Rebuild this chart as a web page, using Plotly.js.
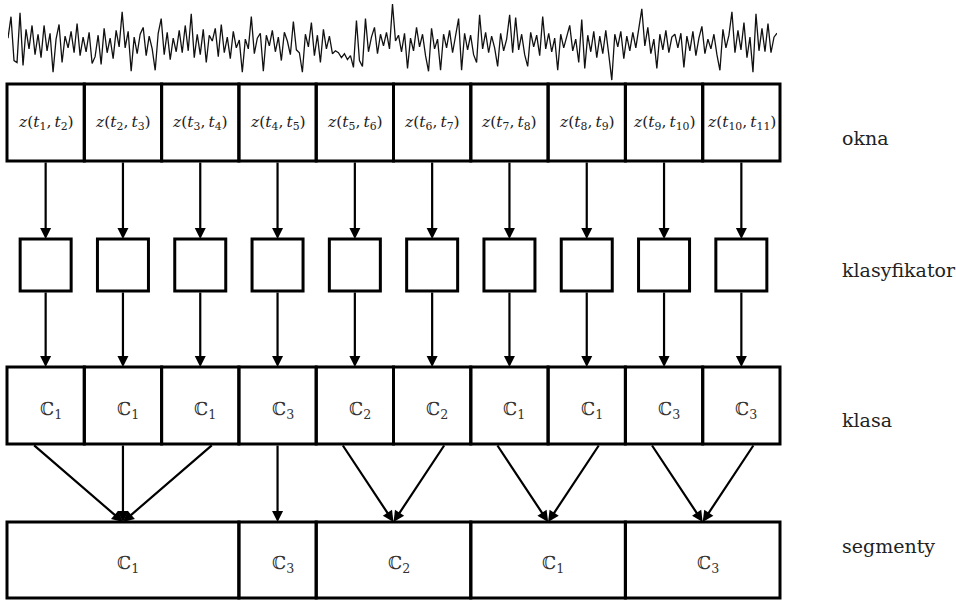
<!DOCTYPE html>
<html><head><meta charset="utf-8">
<script src="https://cdn.plot.ly/plotly-3.0.1.min.js"></script>
<style>html,body{margin:0;padding:0;background:#fff;}#chart{width:956px;height:600px;}</style>
</head><body><div id="chart"></div>
<script>
// ---- data ----
const signal = [
 0.5, 2.7, -1.8, -2.0, 3.1, -2.3, 1.4, -0.6, 1.8, -1.2,
 0.9, -1.5, 1.8, -0.8, 1.0, -3.0, 0.4, 1.9, -2.0, 0.7,
 -0.5, 1.2, -1.0, 2.0, -1.3, 0.6, -0.9, 1.1, -2.1, -1.4,
 0.8, -2.2, 1.5, -1.0, 0.5, -1.6, 1.3, -0.4, 3.2, -0.5,
 1.2, -2.9, 0.6, -1.1, 0.9, 1.6, -1.3, 0.7, -0.6, -2.8,
 1.0, 2.5, -1.2, 1.1, -1.7, 0.5, -0.9, 1.3, -1.0, 1.8,
 -0.8, 3.0, -1.5, 0.9, -1.2, 1.4, -2.0, 0.8, 0.2, 1.5,
 -1.4, 1.9, -1.0, 0.6, -1.6, 1.2, -0.5, 0.3, -3.0, 0.4,
 -0.6, 2.7, -1.1, 0.5, 1.0, -2.9, 0.8, -0.3, 1.3, -0.9,
 0.6, -1.8, 1.1, 0.2, -1.2, 2.2, -0.7, -1.0, -3.0, 0.9,
 -0.4, 2.1, -1.3, 0.8, -2.0, 1.4, -0.6, 0.7, -1.1, -0.8,
 -1.0, -1.5, -1.1, -1.7, -1.3, -2.5, 2.3, -1.8, -2.4, 2.5,
 -0.9, 0.6, 1.6, -1.1, 0.9, -0.3, 1.1, -0.6, 4.0, 0.2,
 0.8, -0.9, 1.0, -2.6, 0.5, -0.8, 1.6, -0.4, 0.9, -1.3,
 -2.9, 1.5, -0.6, 0.4, -2.8, 0.9, -0.5, 1.3, -1.0, 0.6,
 2.5, -2.8, 1.0, -0.7, 0.8, -1.2, -2.0, 2.9, -0.6, 1.1,
 -1.0, 0.7, -0.5, -2.4, 1.0, -0.8, 0.4, 2.9, -1.0, 2.6,
 -0.7, 0.9, -1.2, -2.4, 1.1, -0.4, 0.8, -1.3, 2.7, -0.6,
 1.0, -0.9, 0.5, -2.8, 0.9, -0.5, 0.6, 1.8, -0.8, 0.4,
 -2.0, 2.4, -2.6, 0.8, -0.9, 1.2, -1.5, 0.7, -1.1, 1.3,
 -1.2, -3.8, 0.9, -0.4, 1.2, -1.6, 0.7, -0.8, 1.1, -0.5,
 1.5, 3.5, -0.3, 1.6, -1.1, 0.4, -2.6, 0.9, -0.7, 1.3,
 -1.0, 0.6, 0.9, -0.5, 1.0, -2.5, 0.7, -0.8, 1.2, -1.3,
 0.5, 1.7, -1.1, 0.4, -0.6, 0.9, -1.2, -2.8, 1.4, -0.5,
 0.8, 3.2, -1.0, 1.3, -0.7, 2.1, -1.5, 0.6, -3.0, 3.0,
 -0.8, 1.5, -0.9, 2.0, -1.0, 0.6, 1.0
];
const windowIndex = [1, 2, 3, 4, 5, 6, 7, 8, 9, 10];
const windowClasses = [1, 1, 1, 3, 2, 2, 1, 1, 3, 3];
const rowLabels = ["okna", "klasyfikator", "klasa", "segmenty"];

// ---- layout constants (pixels) ----
const X0 = 7, CW = 77.3, N = windowIndex.length;
const WIN_Y = [84, 161], CLF_Y = [239, 291], CLS_Y = [367, 444], SEG_Y = [522, 598];
const CLF_W = 51, SPREAD = 13;
const ROW_X = 840, ROW_Y = [138, 270, 420, 546];
const LW = 3, AW = 2.2;
const SERIF = 'DejaVu Serif';

const cx = i => X0 + CW * (i + 0.5);
const shapes = [], ann = [];
function rect(x0, x1, y0, y1) {
  shapes.push({type: 'rect', xref: 'x', yref: 'y', x0, x1, y0, y1,
    line: {color: '#000', width: LW}, fillcolor: 'rgba(0,0,0,0)'});
}
function arrow(xt, yt, xh, yh) {
  ann.push({xref: 'x', yref: 'y', axref: 'x', ayref: 'y', x: xh, y: yh, ax: xt, ay: yt,
    text: '', showarrow: true, arrowhead: 2, arrowsize: 1, arrowwidth: AW, arrowcolor: '#000', standoff: 0, startstandoff: 0});
}
function label(x, y, text, size, anchor, color) {
  ann.push({xref: 'x', yref: 'y', x, y, text, showarrow: false, xanchor: anchor || 'center', yanchor: 'middle',
    font: {family: SERIF, size, color: color || '#222'}});
}

// windows, classifiers, classes
windowIndex.forEach((t, i) => {
  const l = X0 + CW * i, r = l + CW;
  rect(l, r, WIN_Y[0], WIN_Y[1]);
  label(cx(i), (WIN_Y[0] + WIN_Y[1]) / 2,
    `<i>z</i>(<i>t</i><sub>${t}</sub>,\u2009<i>t</i><sub>${t + 1}</sub>)`, 15.5);
  arrow(cx(i), WIN_Y[1], cx(i), CLF_Y[0]);
  rect(cx(i) - CLF_W / 2, cx(i) + CLF_W / 2, CLF_Y[0], CLF_Y[1]);
  arrow(cx(i), CLF_Y[1], cx(i), CLS_Y[0]);
  rect(l, r, CLS_Y[0], CLS_Y[1]);
  label(cx(i) + 5, (CLS_Y[0] + CLS_Y[1]) / 2 + 4, `ℂ<sub>${windowClasses[i]}</sub>`, 18, 'center', '#333');
});

// segments: consecutive windows with the same class
const segments = [];
windowClasses.forEach((c, i) => {
  const last = segments[segments.length - 1];
  if (last && last.cls === c) last.end = i; else segments.push({cls: c, start: i, end: i});
});
segments.forEach(s => {
  const l = X0 + CW * s.start, r = X0 + CW * (s.end + 1), m = (l + r) / 2;
  rect(l, r, SEG_Y[0], SEG_Y[1]);
  label(m + 5, (SEG_Y[0] + SEG_Y[1]) / 2 + 4, `ℂ<sub>${s.cls}</sub>`, 18, 'center', '#333');
  for (let i = s.start; i <= s.end; i++) {
    let off = 0;
    if (s.end > s.start) { if (i === s.start) off = -SPREAD; else if (i === s.end) off = SPREAD; }
    arrow(cx(i) + off, CLS_Y[1], m, SEG_Y[0]);
  }
});

rowLabels.forEach((t, k) => label(ROW_X, ROW_Y[k], t, 19, 'left'));

const traces = [
  {x: [0, 956], y: [0, 600], mode: 'markers', marker: {opacity: 0}, hoverinfo: 'skip', xaxis: 'x', yaxis: 'y'},
  {x: signal.map((_, i) => i), y: signal, mode: 'lines', line: {color: '#111', width: 1.3}, xaxis: 'x2', yaxis: 'y2'}
];
const layout = {
  width: 956, height: 600, margin: {l: 0, r: 0, t: 0, b: 0},
  paper_bgcolor: '#fff', plot_bgcolor: 'rgba(0,0,0,0)', showlegend: false,
  xaxis: {range: [0, 956], domain: [0, 1], visible: false, fixedrange: true},
  yaxis: {range: [600, 0], domain: [0, 1], visible: false, fixedrange: true},
  xaxis2: {range: [0, signal.length - 1], domain: [8 / 956, 777 / 956], visible: false, anchor: 'y2'},
  yaxis2: {range: [-4, 4], domain: [1 - 82 / 600, 1 - 4 / 600], visible: false, anchor: 'x2'},
  shapes, annotations: ann
};
Plotly.newPlot('chart', traces, layout, {staticPlot: true, displayModeBar: false});
</script></body></html>
